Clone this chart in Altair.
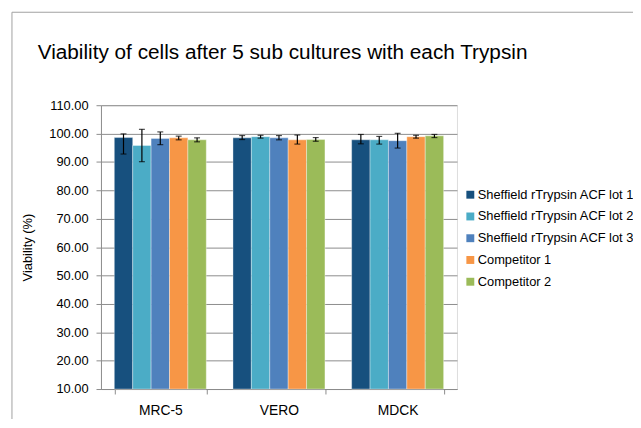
import altair as alt
import pandas as pd

title_text = "Viability of cells after 5 sub cultures with each Trypsin"
cell_lines = ["MRC-5", "VERO", "MDCK"]
series = [
    "Sheffield rTrypsin ACF lot 1",
    "Sheffield rTrypsin ACF lot 2",
    "Sheffield rTrypsin ACF lot 3",
    "Competitor 1",
    "Competitor 2",
]
colors = ["#17507E", "#4BACC6", "#4F81BD", "#F79646", "#9BBB59"]

# viability per series, in order of cell_lines
lot1 = [98.6, 98.5, 97.8]
lot2 = [95.8, 98.9, 97.8]
lot3 = [98.3, 98.5, 97.5]
comp1 = [98.5, 97.8, 98.9]
comp2 = [97.8, 97.9, 99.2]

lot1_lo = [92.8, 97.9, 96.4]
lot1_hi = [99.9, 99.3, 99.7]
lot2_lo = [90.1, 98.4, 96.3]
lot2_hi = [101.5, 99.4, 99.0]
lot3_lo = [96.1, 97.8, 94.9]
lot3_hi = [100.6, 99.3, 100.1]
comp1_lo = [97.8, 96.3, 98.4]
comp1_hi = [99.1, 99.5, 99.4]
comp2_lo = [97.1, 97.3, 98.6]
comp2_hi = [98.5, 98.6, 99.7]

y_ticks = [10, 20, 30, 40, 50, 60, 70, 80, 90, 100, 110]

vals = [lot1, lot2, lot3, comp1, comp2]
los = [lot1_lo, lot2_lo, lot3_lo, comp1_lo, comp2_lo]
his = [lot1_hi, lot2_hi, lot3_hi, comp1_hi, comp2_hi]

rows = []
for s, v, lo, hi in zip(series, vals, los, his):
    for i, c in enumerate(cell_lines):
        rows.append({"cell": c, "series": s, "value": v[i], "lo": lo[i], "hi": hi[i]})
df = pd.DataFrame(rows)

font = "Liberation Sans"
grid_col = "#8C8C8C"

x_enc = alt.X(
    "cell:N",
    sort=cell_lines,
    title=None,
    scale=alt.Scale(paddingInner=0.225, paddingOuter=0.1125),
    axis=alt.Axis(
        tickBand="extent", labelAngle=0, labelFontSize=14, labelFont=font,
        labelColor="#000000", labelPadding=10, tickSize=5, tickColor=grid_col,
        domainColor=grid_col, grid=False,
    ),
)
xoff = alt.XOffset("series:N", sort=series)
y_scale = alt.Scale(domain=[10, 110], zero=False, nice=False)
y_axis = alt.Axis(
    values=y_ticks, format=".2f", labelFontSize=13, labelFont=font,
    labelColor="#000000", labelPadding=8, tickSize=5, tickColor=grid_col,
    labelOverlap=False, labelBound=False,
    domainColor=grid_col, gridColor=grid_col, gridWidth=1,
    titleFont=font, titleFontSize=13, titleFontWeight="normal",
    titleColor="#000000", titlePadding=14,
)

bars = alt.Chart(df).mark_bar(stroke="white", strokeWidth=0.6, strokeOpacity=0.6).encode(
    x=x_enc,
    xOffset=xoff,
    y=alt.Y("value:Q", scale=y_scale, title="Viability (%)", axis=y_axis),
    y2=alt.datum(10),
    color=alt.Color(
        "series:N",
        sort=series,
        scale=alt.Scale(domain=series, range=colors),
        legend=alt.Legend(
            title=None, orient="none", legendX=367, legendY=84,
            symbolType="square", symbolSize=64, symbolStrokeWidth=0,
            labelFont=font, labelFontSize=13, labelColor="#000000",
            labelOffset=1, rowPadding=8, labelLimit=400,
        ),
    ),
)

err = alt.Chart(df).mark_rule(color="#000000", strokeWidth=1.2).encode(
    x=x_enc, xOffset=xoff,
    y=alt.Y("lo:Q", scale=y_scale, title="Viability (%)", axis=y_axis), y2="hi:Q"
)
cap_lo = alt.Chart(df).mark_tick(color="#000000", size=6, thickness=1.2).encode(
    x=x_enc, xOffset=xoff, y=alt.Y("lo:Q", scale=y_scale, title="Viability (%)", axis=y_axis)
)
cap_hi = alt.Chart(df).mark_tick(color="#000000", size=6, thickness=1.2).encode(
    x=x_enc, xOffset=xoff, y=alt.Y("hi:Q", scale=y_scale, title="Viability (%)", axis=y_axis)
)

title_df = pd.DataFrame({"t": [title_text]})
title_mark = alt.Chart(title_df).mark_text(
    align="left", baseline="alphabetic", font=font, fontSize=21, color="#000000"
).encode(text="t:N", x=alt.value(-64), y=alt.value(-47))

# decorative outer chart frame (Excel chart area border)
frame_left = alt.Chart(title_df).mark_rule(color="#A0A0A0", strokeWidth=1).encode(
    x=alt.value(-90), y=alt.value(-94), y2=alt.value(330)
)
frame_top = alt.Chart(title_df).mark_rule(color="#A0A0A0", strokeWidth=1).encode(
    x=alt.value(-90), x2=alt.value(545), y=alt.value(-94)
)

chart = alt.layer(frame_left, frame_top, title_mark, bars, err, cap_lo, cap_hi).properties(
    width=360,
    height=287,
    autosize=alt.AutoSizeParams(type="none"),
    padding={"left": 94, "top": 96, "right": 178, "bottom": 28},
).configure_view(stroke=None).configure_axisY(labelOverlap=False).configure(background="white")

chart.save("out.html", embed_options={"renderer": "svg", "actions": False})
